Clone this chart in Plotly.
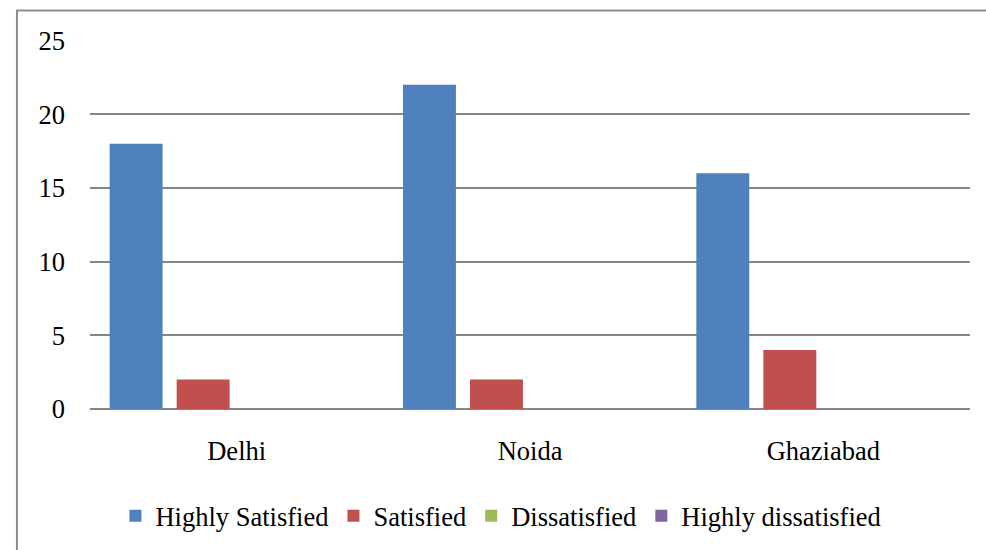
import plotly.graph_objects as go

cities = ["Delhi", "Noida", "Ghaziabad"]
series_names = ["Highly Satisfied", "Satisfied", "Dissatisfied", "Highly dissatisfied"]
highly_satisfied = [18, 22, 16]
satisfied = [2, 2, 4]
dissatisfied = [0, 0, 0]
highly_dissatisfied = [0, 0, 0]
y_ticks = [0, 5, 10, 15, 20, 25]

colors = ["#4F81BD", "#C0504D", "#9BBB59", "#8064A2"]
values = [highly_satisfied, satisfied, dissatisfied, highly_dissatisfied]

fig = go.Figure()
for name, vals, col in zip(series_names, values, colors):
    fig.add_trace(go.Bar(x=cities, y=vals, name=name, marker=dict(color=col, line=dict(width=0))))

font = dict(family="Liberation Serif", size=26.5, color="#000000")
fig.update_layout(
    width=986, height=550,
    margin=dict(l=90, r=16, t=40, b=141, autoexpand=False),
    paper_bgcolor="white", plot_bgcolor="white",
    font=font,
    barmode="group", bargap=0.086, bargroupgap=0.21,
    showlegend=True,
    legend=dict(orientation="h", x=0.467, xanchor="center", y=-0.29, yanchor="middle",
                font=font, itemwidth=30, tracegroupgap=0),
    xaxis=dict(showgrid=False, showline=False, ticks="", ticklabelstandoff=23,
               tickfont=font),
    yaxis=dict(range=[0, 25.04], tickvals=y_ticks, showgrid=True, gridcolor="#868686", gridwidth=1.5,
               zeroline=True, zerolinecolor="#868686", zerolinewidth=1.5, showline=False,
               ticks="", ticklabelstandoff=24, tickfont=font),
    shapes=[dict(type="rect", xref="paper", yref="paper",
                 x0=-0.083, x1=1.2, y0=-0.6, y1=1.08,
                 line=dict(color="#8C8C8C", width=2), fillcolor="rgba(0,0,0,0)", layer="below")],
)
fig.write_html("out.html")
